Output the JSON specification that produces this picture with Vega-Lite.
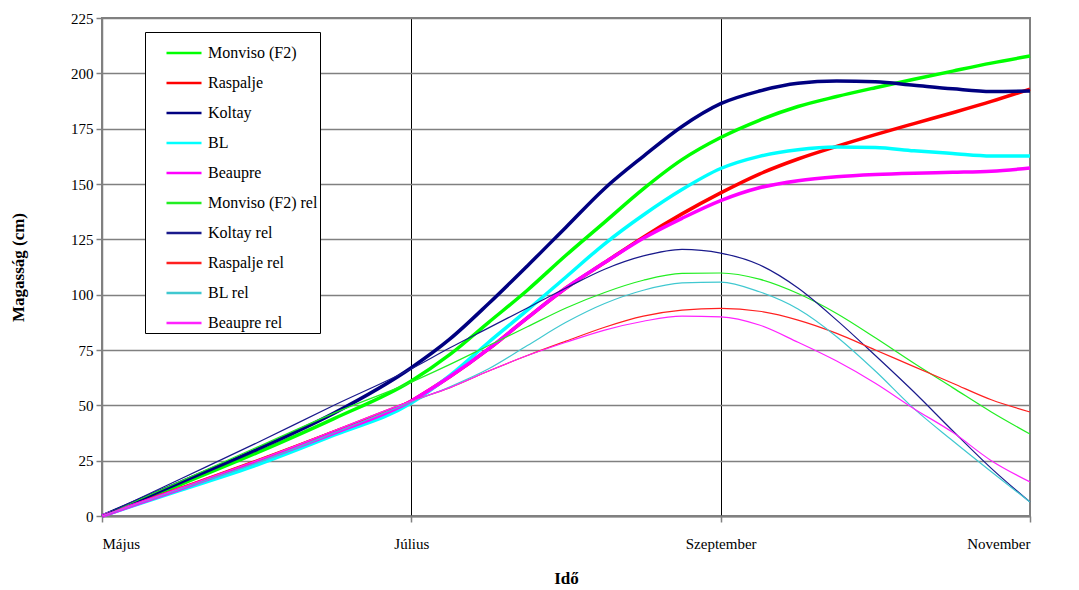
{
  "$schema": "https://vega.github.io/schema/vega-lite/v6.json",
  "autosize": {"type": "none"},
  "width": 928,
  "height": 498,
  "padding": {"left": 102, "top": 18, "right": 49, "bottom": 74},
  "background": "white",
  "config": {
    "font": "Liberation Serif",
    "view": {"stroke": "#808080", "strokeWidth": 2}
  },
  "data": {"values": [
    {"m":0,"s":"Monviso (F2)","v":0},{"m":0.5,"s":"Monviso (F2)","v":14},{"m":1,"s":"Monviso (F2)","v":28.5},{"m":1.5,"s":"Monviso (F2)","v":44},{"m":2,"s":"Monviso (F2)","v":61},{"m":2.25,"s":"Monviso (F2)","v":73},{"m":2.5,"s":"Monviso (F2)","v":87.5},{"m":2.75,"s":"Monviso (F2)","v":102},{"m":3,"s":"Monviso (F2)","v":117.8},{"m":3.25,"s":"Monviso (F2)","v":132.8},{"m":3.5,"s":"Monviso (F2)","v":147.8},{"m":3.75,"s":"Monviso (F2)","v":161},{"m":4,"s":"Monviso (F2)","v":171},{"m":4.25,"s":"Monviso (F2)","v":178.8},{"m":4.5,"s":"Monviso (F2)","v":185},{"m":4.75,"s":"Monviso (F2)","v":189.5},{"m":5,"s":"Monviso (F2)","v":193.5},{"m":5.25,"s":"Monviso (F2)","v":197.3},{"m":5.5,"s":"Monviso (F2)","v":201},{"m":5.75,"s":"Monviso (F2)","v":204.6},{"m":6,"s":"Monviso (F2)","v":207.8},
    {"m":0,"s":"Raspalje","v":0},{"m":0.5,"s":"Raspalje","v":12.3},{"m":1,"s":"Raspalje","v":24.8},{"m":1.5,"s":"Raspalje","v":38},{"m":2,"s":"Raspalje","v":52},{"m":2.25,"s":"Raspalje","v":63},{"m":2.5,"s":"Raspalje","v":75.5},{"m":2.75,"s":"Raspalje","v":89.5},{"m":3,"s":"Raspalje","v":103},{"m":3.25,"s":"Raspalje","v":114.5},{"m":3.5,"s":"Raspalje","v":126},{"m":3.75,"s":"Raspalje","v":136.5},{"m":4,"s":"Raspalje","v":146},{"m":4.25,"s":"Raspalje","v":154.5},{"m":4.5,"s":"Raspalje","v":161.3},{"m":4.75,"s":"Raspalje","v":167},{"m":5,"s":"Raspalje","v":172.3},{"m":5.25,"s":"Raspalje","v":177.3},{"m":5.5,"s":"Raspalje","v":182.2},{"m":5.75,"s":"Raspalje","v":187.3},{"m":6,"s":"Raspalje","v":192.9},
    {"m":0,"s":"Koltay","v":0},{"m":0.5,"s":"Koltay","v":15},{"m":1,"s":"Koltay","v":30},{"m":1.5,"s":"Koltay","v":46.5},{"m":2,"s":"Koltay","v":67},{"m":2.25,"s":"Koltay","v":80},{"m":2.5,"s":"Koltay","v":96},{"m":2.75,"s":"Koltay","v":113},{"m":3,"s":"Koltay","v":130.5},{"m":3.25,"s":"Koltay","v":148},{"m":3.5,"s":"Koltay","v":162.5},{"m":3.75,"s":"Koltay","v":176},{"m":4,"s":"Koltay","v":186.3},{"m":4.25,"s":"Koltay","v":192},{"m":4.5,"s":"Koltay","v":195.5},{"m":4.75,"s":"Koltay","v":196.5},{"m":5,"s":"Koltay","v":196.2},{"m":5.25,"s":"Koltay","v":194.6},{"m":5.5,"s":"Koltay","v":193},{"m":5.75,"s":"Koltay","v":191.8},{"m":6,"s":"Koltay","v":192},
    {"m":0,"s":"BL","v":0},{"m":0.5,"s":"BL","v":11.5},{"m":1,"s":"BL","v":23},{"m":1.5,"s":"BL","v":36.5},{"m":2,"s":"BL","v":51},{"m":2.25,"s":"BL","v":63.5},{"m":2.5,"s":"BL","v":78.5},{"m":2.75,"s":"BL","v":93},{"m":3,"s":"BL","v":108},{"m":3.25,"s":"BL","v":123},{"m":3.5,"s":"BL","v":136},{"m":3.75,"s":"BL","v":147.5},{"m":4,"s":"BL","v":157},{"m":4.25,"s":"BL","v":162.5},{"m":4.5,"s":"BL","v":165.5},{"m":4.75,"s":"BL","v":166.7},{"m":5,"s":"BL","v":166.5},{"m":5.25,"s":"BL","v":165},{"m":5.5,"s":"BL","v":163.8},{"m":5.75,"s":"BL","v":162.7},{"m":6,"s":"BL","v":162.7},
    {"m":0,"s":"Beaupre","v":0},{"m":0.5,"s":"Beaupre","v":12},{"m":1,"s":"Beaupre","v":24.5},{"m":1.5,"s":"Beaupre","v":37.5},{"m":2,"s":"Beaupre","v":52},{"m":2.25,"s":"Beaupre","v":63},{"m":2.5,"s":"Beaupre","v":75.5},{"m":2.75,"s":"Beaupre","v":89.5},{"m":3,"s":"Beaupre","v":103},{"m":3.25,"s":"Beaupre","v":114.5},{"m":3.5,"s":"Beaupre","v":125.5},{"m":3.75,"s":"Beaupre","v":134.5},{"m":4,"s":"Beaupre","v":142.5},{"m":4.25,"s":"Beaupre","v":148.3},{"m":4.5,"s":"Beaupre","v":151.5},{"m":4.75,"s":"Beaupre","v":153.3},{"m":5,"s":"Beaupre","v":154.3},{"m":5.25,"s":"Beaupre","v":154.9},{"m":5.5,"s":"Beaupre","v":155.3},{"m":5.75,"s":"Beaupre","v":155.8},{"m":6,"s":"Beaupre","v":157.2},
    {"m":0,"s":"Monviso (F2) rel","v":0},{"m":0.5,"s":"Monviso (F2) rel","v":15.5},{"m":1,"s":"Monviso (F2) rel","v":31},{"m":1.5,"s":"Monviso (F2) rel","v":46.5},{"m":2,"s":"Monviso (F2) rel","v":60.5},{"m":2.25,"s":"Monviso (F2) rel","v":68.5},{"m":2.5,"s":"Monviso (F2) rel","v":77},{"m":2.75,"s":"Monviso (F2) rel","v":85.5},{"m":3,"s":"Monviso (F2) rel","v":94},{"m":3.25,"s":"Monviso (F2) rel","v":101},{"m":3.5,"s":"Monviso (F2) rel","v":106.5},{"m":3.75,"s":"Monviso (F2) rel","v":109.6},{"m":4,"s":"Monviso (F2) rel","v":109.8},{"m":4.25,"s":"Monviso (F2) rel","v":107},{"m":4.5,"s":"Monviso (F2) rel","v":100.5},{"m":4.75,"s":"Monviso (F2) rel","v":91.5},{"m":5,"s":"Monviso (F2) rel","v":80.5},{"m":5.25,"s":"Monviso (F2) rel","v":69},{"m":5.5,"s":"Monviso (F2) rel","v":58},{"m":5.75,"s":"Monviso (F2) rel","v":47},{"m":6,"s":"Monviso (F2) rel","v":37},
    {"m":0,"s":"Koltay rel","v":0},{"m":0.5,"s":"Koltay rel","v":16.5},{"m":1,"s":"Koltay rel","v":33},{"m":1.5,"s":"Koltay rel","v":50},{"m":2,"s":"Koltay rel","v":66.5},{"m":2.25,"s":"Koltay rel","v":76},{"m":2.5,"s":"Koltay rel","v":85},{"m":2.75,"s":"Koltay rel","v":94},{"m":3,"s":"Koltay rel","v":103},{"m":3.25,"s":"Koltay rel","v":111.5},{"m":3.5,"s":"Koltay rel","v":117.5},{"m":3.75,"s":"Koltay rel","v":120.5},{"m":4,"s":"Koltay rel","v":118.8},{"m":4.25,"s":"Koltay rel","v":113.5},{"m":4.5,"s":"Koltay rel","v":103},{"m":4.75,"s":"Koltay rel","v":88.5},{"m":5,"s":"Koltay rel","v":72.5},{"m":5.25,"s":"Koltay rel","v":56},{"m":5.5,"s":"Koltay rel","v":38.5},{"m":5.75,"s":"Koltay rel","v":21.5},{"m":6,"s":"Koltay rel","v":6.3},
    {"m":0,"s":"Raspalje rel","v":0},{"m":0.5,"s":"Raspalje rel","v":12.5},{"m":1,"s":"Raspalje rel","v":25},{"m":1.5,"s":"Raspalje rel","v":38.5},{"m":2,"s":"Raspalje rel","v":52},{"m":2.25,"s":"Raspalje rel","v":58},{"m":2.5,"s":"Raspalje rel","v":65.5},{"m":2.75,"s":"Raspalje rel","v":72.5},{"m":3,"s":"Raspalje rel","v":79},{"m":3.25,"s":"Raspalje rel","v":85.3},{"m":3.5,"s":"Raspalje rel","v":90.3},{"m":3.75,"s":"Raspalje rel","v":93},{"m":4,"s":"Raspalje rel","v":93.8},{"m":4.25,"s":"Raspalje rel","v":92.5},{"m":4.5,"s":"Raspalje rel","v":88.5},{"m":4.75,"s":"Raspalje rel","v":82.5},{"m":5,"s":"Raspalje rel","v":75},{"m":5.25,"s":"Raspalje rel","v":67.5},{"m":5.5,"s":"Raspalje rel","v":60},{"m":5.75,"s":"Raspalje rel","v":52.5},{"m":6,"s":"Raspalje rel","v":47},
    {"m":0,"s":"BL rel","v":0},{"m":0.5,"s":"BL rel","v":12},{"m":1,"s":"BL rel","v":24},{"m":1.5,"s":"BL rel","v":37.5},{"m":2,"s":"BL rel","v":51.5},{"m":2.25,"s":"BL rel","v":58.4},{"m":2.5,"s":"BL rel","v":66.5},{"m":2.75,"s":"BL rel","v":77},{"m":3,"s":"BL rel","v":87.5},{"m":3.25,"s":"BL rel","v":96},{"m":3.5,"s":"BL rel","v":102},{"m":3.75,"s":"BL rel","v":105.3},{"m":4,"s":"BL rel","v":105.7},{"m":4.25,"s":"BL rel","v":101.3},{"m":4.5,"s":"BL rel","v":93.5},{"m":4.75,"s":"BL rel","v":81},{"m":5,"s":"BL rel","v":65.5},{"m":5.25,"s":"BL rel","v":48.5},{"m":5.5,"s":"BL rel","v":34},{"m":5.75,"s":"BL rel","v":20},{"m":6,"s":"BL rel","v":6.3},
    {"m":0,"s":"Beaupre rel","v":0},{"m":0.5,"s":"Beaupre rel","v":12.5},{"m":1,"s":"Beaupre rel","v":25},{"m":1.5,"s":"Beaupre rel","v":38.5},{"m":2,"s":"Beaupre rel","v":52},{"m":2.25,"s":"Beaupre rel","v":58},{"m":2.5,"s":"Beaupre rel","v":65.5},{"m":2.75,"s":"Beaupre rel","v":72.5},{"m":3,"s":"Beaupre rel","v":78.5},{"m":3.25,"s":"Beaupre rel","v":84},{"m":3.5,"s":"Beaupre rel","v":88},{"m":3.75,"s":"Beaupre rel","v":90.3},{"m":4,"s":"Beaupre rel","v":90},{"m":4.25,"s":"Beaupre rel","v":86.3},{"m":4.5,"s":"Beaupre rel","v":78.5},{"m":4.75,"s":"Beaupre rel","v":70},{"m":5,"s":"Beaupre rel","v":60},{"m":5.25,"s":"Beaupre rel","v":48.5},{"m":5.5,"s":"Beaupre rel","v":37.8},{"m":5.75,"s":"Beaupre rel","v":25},{"m":6,"s":"Beaupre rel","v":15.4}
  ]},
  "mark": {"type": "line", "interpolate": "monotone"},
  "encoding": {
    "x": {
      "field": "m", "type": "quantitative",
      "scale": {"domain": [0, 6], "nice": false, "zero": false},
      "axis": {
        "title": "Idő", "values": [0, 2, 4, 6],
        "labelExpr": "datum.value == 0 ? 'Május' : datum.value == 2 ? 'Július' : datum.value == 4 ? 'Szeptember' : 'November'",
        "labelFontSize": 15, "labelColor": "black", "labelPadding": 14,
        "tickSize": 6, "tickColor": "#808080", "tickWidth": 1.5,
        "domainColor": "#808080", "domainWidth": 2,
        "grid": true,
        "gridColor": {"condition": {"test": "datum.value == 6 || datum.value == 0", "value": "#808080"}, "value": "black"},
        "gridWidth": 1,
        "titleFontSize": 17, "titleFontWeight": "bold", "titleColor": "black",
        "titleY": 62, "titleBaseline": "middle"
      }
    },
    "y": {
      "field": "v", "type": "quantitative",
      "scale": {"domain": [0, 225], "nice": false},
      "axis": {
        "title": "Magasság (cm)", "values": [0,25,50,75,100,125,150,175,200,225],
        "labelFontSize": 15, "labelColor": "black", "labelPadding": 3,
        "tickSize": 6, "tickColor": "#808080", "tickWidth": 1.5,
        "domainColor": "#808080", "domainWidth": 1.5,
        "grid": true, "gridColor": "#808080", "gridWidth": 1.5,
        "titleFontSize": 17, "titleFontWeight": "bold", "titleColor": "black",
        "titleX": -84, "titleY": 249, "titleAngle": 270, "titleBaseline": "middle", "titleAlign": "center"
      }
    },
    "color": {
      "field": "s", "type": "nominal",
      "scale": {
        "domain": ["Monviso (F2)","Raspalje","Koltay","BL","Beaupre","Monviso (F2) rel","Koltay rel","Raspalje rel","BL rel","Beaupre rel"],
        "range": ["#00ff00","#ff0000","#000080","#00ffff","#ff00ff","#22ee22","#1a1a8c","#ff2020","#40c8d0","#ff22ff"]
      },
      "legend": {
        "title": null, "orient": "none", "legendX": 43, "legendY": 14,
        "symbolType": "stroke", "symbolSize": 1225, "symbolStrokeWidth": 2.5,
        "labelFontSize": 16, "labelColor": "black",
        "labelOffset": 5, "rowPadding": 3, "padding": 2, "symbolOffset": 18,
        "fillColor": "white", "strokeColor": "black", "cornerRadius": 0
      }
    },
    "strokeWidth": {
      "condition": {"test": "datum.s && indexof(datum.s, ' rel') >= 0", "value": 1.2},
      "value": 3.5
    }
  }
}
